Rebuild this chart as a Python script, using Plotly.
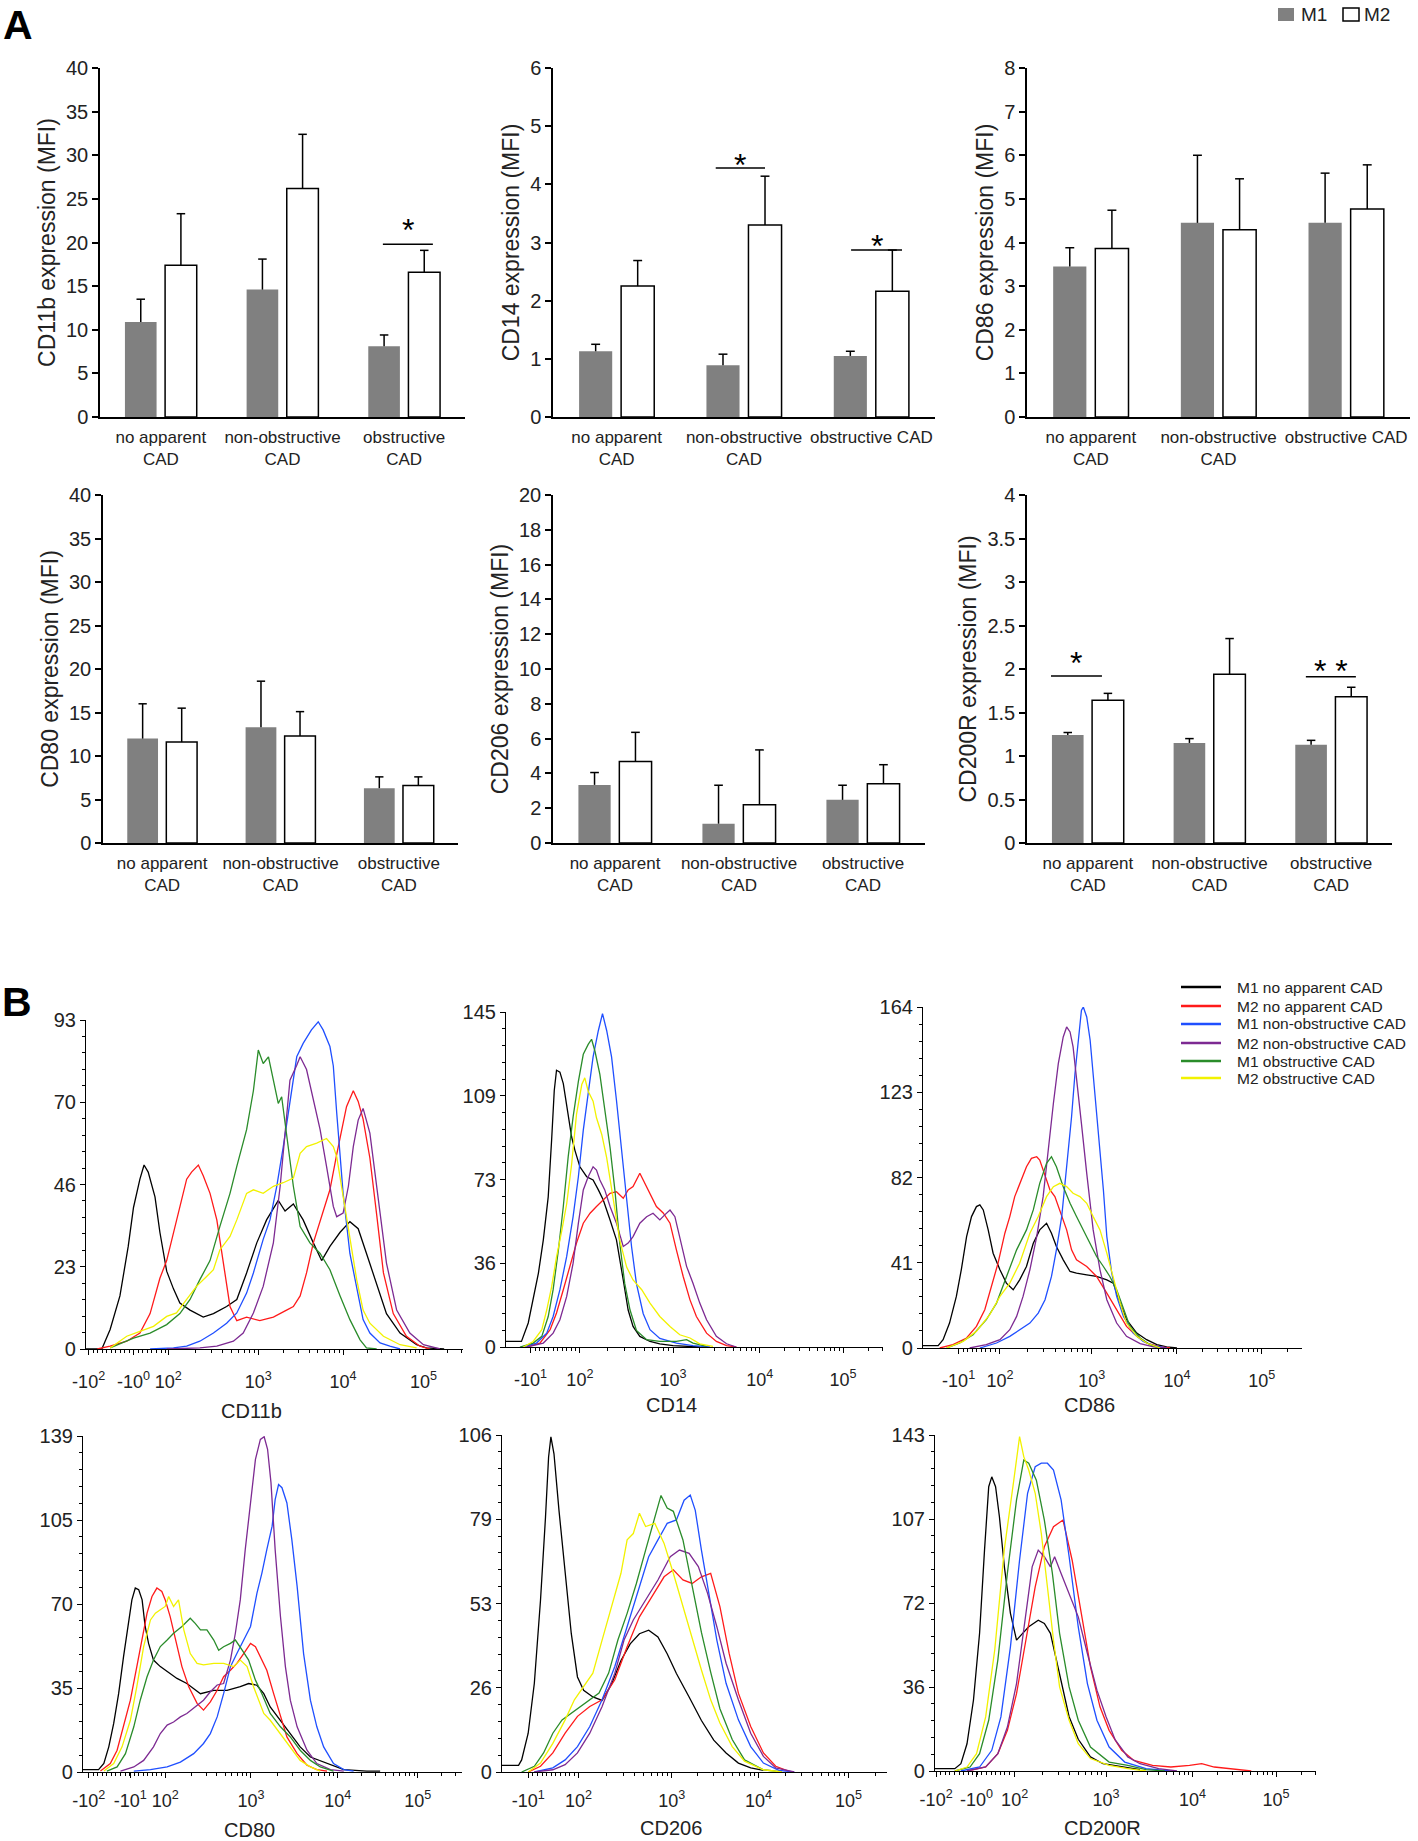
import math
import plotly.graph_objects as go

W, H = 1418, 1841
FONT = "Arial, 'Liberation Sans', sans-serif"
GRAY = "#808080"

#%% Panel A data: MFI mean and upper error bar, M1 / M2
groups = ["no apparent CAD", "non-obstructive CAD", "obstructive CAD"]

cd11b_m1 = [10.9, 14.6, 8.1]
cd11b_m1_err = [2.6, 3.5, 1.3]
cd11b_m2 = [17.4, 26.2, 16.6]
cd11b_m2_err = [5.9, 6.2, 2.5]

cd14_m1 = [1.13, 0.89, 1.05]
cd14_m1_err = [0.12, 0.19, 0.08]
cd14_m2 = [2.25, 3.30, 2.16]
cd14_m2_err = [0.44, 0.84, 0.71]

cd86_m1 = [3.45, 4.45, 4.45]
cd86_m1_err = [0.43, 1.55, 1.14]
cd86_m2 = [3.86, 4.29, 4.77]
cd86_m2_err = [0.88, 1.17, 1.01]

cd80_m1 = [12.0, 13.3, 6.3]
cd80_m1_err = [4.0, 5.3, 1.3]
cd80_m2 = [11.6, 12.3, 6.6]
cd80_m2_err = [3.9, 2.8, 1.0]

cd206_m1 = [3.34, 1.11, 2.48]
cd206_m1_err = [0.71, 2.21, 0.84]
cd206_m2 = [4.68, 2.2, 3.4]
cd206_m2_err = [1.68, 3.15, 1.1]

cd200r_m1 = [1.24, 1.15, 1.13]
cd200r_m1_err = [0.03, 0.05, 0.05]
cd200r_m2 = [1.64, 1.94, 1.68]
cd200r_m2_err = [0.08, 0.41, 0.11]

# significance marks: (panel, x from, x to, line level, star level, text)
sig_marks = [
    (1, 1.825, 2.236, 19.8, 22.3, "*"),
    (2, 0.778, 1.165, 4.28, 4.47, "*"),
    (2, 1.841, 2.241, 2.87, 3.07, "*"),
    (6, -0.303, 0.116, 1.92, 2.16, "*"),
    (6, 1.792, 2.203, 1.91, 2.07, "* *"),
]

#%% Panel B data: histogram counts vs display channel (0-1000)
series = ["M1 no apparent CAD", "M2 no apparent CAD", "M1 non-obstructive CAD",
          "M2 non-obstructive CAD", "M1 obstructive CAD", "M2 obstructive CAD"]
colors = ["#000000", "#ff1a1a", "#1f4fff", "#7d2a92", "#2a8c2a", "#f2f200"]

hist_cd11b = {
    "M1 no apparent CAD": (
        [0, 42, 64, 90, 112, 126, 143, 154, 165, 183, 196, 214, 232, 249, 276, 311, 338, 373, 400, 426,
         453, 479, 510, 528, 550, 576, 603, 625, 647, 674, 700, 722, 744, 771, 797, 833, 877, 903, 950],
        [0, 0, 5.5, 15, 29, 40, 48, 52, 50, 43, 33, 22, 17, 13, 11, 9, 10, 12, 14, 21.5,
         30, 36.5, 42, 39, 41, 36.5, 30, 25, 29, 33, 36, 34, 27, 18, 10, 4.5, 1.2, 0.3, 0]),
    "M2 no apparent CAD": (
        [30, 64, 108, 143, 170, 196, 214, 232, 249, 267, 280, 298, 311, 329, 347, 364, 382, 400, 426, 461,
         497, 532, 550, 568, 585, 603, 621, 647, 665, 691, 709, 722, 735, 753, 771, 789, 815, 850, 886, 912],
        [0, 0.8, 2.2, 4.5, 10, 20, 25, 33, 40, 48, 50, 52, 49, 44, 36.5, 24, 12, 8, 9, 8,
         9, 11, 12, 15, 21.5, 30, 36, 45, 55, 68.5, 73, 70, 65, 54, 38, 21.5, 10, 3.6, 0.8, 0]),
    "M1 non-obstructive CAD": (
        [170, 232, 267, 302, 338, 373, 400, 426, 444, 470, 488, 506, 523, 541, 559, 576, 598, 616, 629, 647,
         656, 665, 682, 700, 718, 735, 753, 780, 806, 833],
        [0, 0.3, 0.8, 2.2, 4.5, 7.3, 10.2, 15.8, 21.5, 31, 36.5, 46, 57, 70.4, 82.6, 86.4, 90.2, 92.5, 90.2, 85.5,
         80, 66.8, 44, 27, 16.8, 8.3, 4.5, 1.7, 0.8, 0]),
    "M2 non-obstructive CAD": (
        [214, 302, 347, 391, 417, 444, 470, 497, 515, 528, 541, 559, 568, 585, 603, 621, 638, 656, 665, 682,
         696, 709, 722, 735, 753, 771, 797, 824, 859, 895, 939],
        [0, 0.3, 0.8, 2.2, 4.5, 10.2, 17.7, 30, 46, 62, 76, 80.2, 82.6, 79, 70.4, 62, 51.6, 40.3, 37.4, 38.4,
         46, 57.2, 64.7, 68, 61, 46, 24.3, 11, 4.5, 1.2, 0]),
    "M1 obstructive CAD": (
        [64, 126, 170, 214, 249, 276, 302, 329, 355, 382, 400, 426, 444, 457, 470, 484, 497, 510, 519, 532,
         550, 568, 594, 621, 647, 674, 700, 727, 744, 771],
        [0.3, 3.1, 4.5, 6.9, 10, 14, 19.6, 25, 34.6, 44, 51.6, 62, 73, 84.5, 80.7, 82.6, 76, 69.4, 71.3, 61,
         46, 34.6, 30, 27, 22.4, 15, 8.3, 2.6, 0.3, 0]),
    "M2 obstructive CAD": (
        [64, 108, 143, 179, 214, 240, 267, 293, 320, 338, 355, 382, 400, 426, 444, 470, 497, 523, 550, 568,
         585, 612, 638, 656, 665, 682, 700, 718, 735, 753, 789, 833, 877],
        [0.3, 3.6, 5, 6.4, 9.2, 10.2, 14, 17.7, 20.5, 22.4, 28, 31.8, 36.5, 44, 45, 44, 46, 47, 48.3, 55.3,
         57.2, 58.2, 59.5, 57.2, 54.4, 43, 31.8, 19.6, 11, 7.3, 3.6, 1.2, 0.3]),
}

hist_cd14 = {
    "M1 no apparent CAD": (
        [0, 41, 59, 72, 86, 99, 112, 121, 128, 134, 143, 152, 161, 174, 183, 196, 214, 231, 245, 258,
         276, 293, 311, 324, 337, 355, 382, 408, 443, 479, 514],
        [2.4, 2.4, 10.4, 20.4, 32, 46.4, 65, 89.6, 111, 119.8, 119, 114, 104, 91, 85, 78, 73.7, 72.3, 68, 63.6,
         55, 46.4, 29, 16, 8.9, 4.6, 2.4, 1.4, 0.6, 0.3, 0]),
    "M2 no apparent CAD": (
        [55, 90, 117, 134, 152, 170, 187, 205, 223, 240, 258, 276, 293, 311, 324, 337, 355, 368, 386, 399,
         417, 435, 452, 470, 488, 505, 532, 558, 585, 611],
        [0, 1.7, 7.5, 14.7, 24.8, 34.9, 45, 53.6, 57.9, 60.8, 63.6, 66.5, 67.2, 64.4, 68, 69.4, 75.2, 70.9, 65, 60.8,
         58, 53.6, 42, 30.5, 20.4, 13.2, 6, 2.4, 0.6, 0]),
    "M1 non-obstructive CAD": (
        [46, 81, 108, 125, 143, 161, 178, 192, 205, 218, 231, 245, 256, 267, 280, 293, 307, 320, 333, 346,
         364, 382, 408, 452, 496, 541],
        [0, 1.7, 6, 13.2, 24.8, 39.2, 56.4, 73.7, 93.9, 111, 125.6, 137, 144.3, 137, 125.6, 106.8, 85.2, 62.2, 43.5, 27.4,
         14.4, 7.5, 3.7, 1.7, 0.6, 0]),
    "M2 non-obstructive CAD": (
        [55, 99, 125, 143, 161, 178, 192, 205, 218, 231, 240, 249, 262, 276, 293, 311, 324, 337, 355, 373,
         390, 408, 421, 435, 448, 461, 479, 496, 514, 532, 558, 585, 611],
        [0, 1.7, 6, 11.8, 21.9, 36.3, 53.6, 68, 73.7, 78, 76.6, 72.3, 68, 60.8, 53.6, 43.5, 45, 47.8, 53.6, 56.4,
         57.9, 55, 57.2, 59.3, 56.4, 47.8, 34.9, 27.6, 19, 11.8, 4.6, 1.4, 0]),
    "M1 obstructive CAD": (
        [37, 72, 95, 112, 125, 139, 152, 165, 178, 192, 205, 218, 227, 236, 249, 262, 276, 289, 302, 315,
         329, 346, 373, 408, 452, 479, 496, 532],
        [0, 1.7, 4.6, 13.2, 24.8, 42, 60.8, 82.4, 99.6, 115, 126.7, 131, 133.2, 128, 118, 102, 86.4, 67.7, 44.6, 27.4,
         16, 7.2, 3.2, 2.4, 2.4, 3.2, 1.7, 0.3]),
    "M2 obstructive CAD": (
        [46, 72, 95, 108, 121, 134, 148, 161, 174, 187, 201, 209, 218, 231, 240, 254, 267, 284, 302, 320,
         337, 360, 382, 408, 435, 461, 488, 514, 549],
        [0, 2.4, 7.5, 16, 26, 39, 50.4, 62, 79, 100.7, 113.6, 116.5, 110.7, 106.4, 99.2, 92, 82, 64.8, 46, 34.6,
         29, 24.8, 19, 13.2, 8.9, 5.3, 3.9, 1.4, 0.3]),
}

hist_cd86 = {
    "M1 no apparent CAD": (
        [0, 40, 53, 70, 88, 101, 115, 128, 141, 150, 159, 172, 185, 203, 220, 238, 255, 273, 291, 308,
         326, 339, 352, 370, 388, 405, 432, 458, 485, 502, 520, 537, 564, 590, 617, 643, 670],
        [1.1, 1.1, 4, 12, 24.8, 37.6, 53.6, 63.2, 68, 68.8, 66.4, 56.8, 45.6, 37.6, 31.2, 28, 32.8, 39.2, 50.4, 56.8,
         60, 55.2, 48.8, 42.4, 36.8, 36, 35.2, 34.4, 32.8, 31.2, 21.6, 13.6, 7.2, 4, 1.6, 0.5, 0]),
    "M2 no apparent CAD": (
        [44, 79, 115, 141, 163, 181, 198, 216, 229, 242, 255, 273, 286, 300, 308, 322, 335, 348, 361, 379,
         392, 405, 432, 458, 485, 511, 537, 564, 590, 626, 652],
        [0, 1.6, 4.8, 10.4, 18.4, 29.6, 40.8, 55.2, 63.2, 72.8, 79.2, 87.2, 91.2, 92, 90.4, 82.4, 76, 72.8, 66.4, 56.8,
         47.2, 42.4, 39.2, 34.4, 26.4, 18.4, 10.4, 5.6, 2.4, 0.5, 0]),
    "M1 non-obstructive CAD": (
        [150, 194, 229, 255, 282, 304, 322, 339, 352, 366, 379, 392, 401, 410, 418, 423, 432, 441, 449, 463,
         476, 485, 498, 511, 529, 555, 581, 608, 643],
        [0, 2.4, 5.6, 8.8, 12, 16.8, 23.2, 34.4, 47.2, 63.2, 85.6, 111.2, 132, 149.6, 162.4, 164, 159.2, 148, 132, 104.8,
         76, 53.6, 36, 24.8, 15.2, 7.2, 3.2, 1.1, 0]),
    "M2 non-obstructive CAD": (
        [123, 167, 203, 229, 247, 264, 282, 300, 317, 330, 344, 357, 370, 379, 388, 396, 405, 418, 432, 449,
         467, 485, 511, 537, 573, 608, 643],
        [0, 1.6, 4, 8.8, 15.2, 24.8, 37.6, 53.6, 72.8, 95.2, 117.6, 136.8, 149.6, 154.4, 152, 144.8, 130.4, 108, 84, 56.8,
         37.6, 23.2, 12, 5.6, 2.1, 0.5, 0]),
    "M1 obstructive CAD": (
        [62, 97, 132, 167, 194, 220, 247, 273, 291, 308, 326, 339, 352, 370, 388, 405, 423, 441, 458, 476,
         493, 511, 529, 546, 573, 599, 626],
        [0, 2.4, 6.4, 13.6, 21.6, 34.4, 47.2, 56.8, 66.4, 79.2, 88.8, 92, 87.2, 77.6, 69.6, 63.2, 56.8, 50.4, 44, 39.2,
         34.4, 28, 18.4, 10.4, 4.8, 1.6, 0]),
    "M2 obstructive CAD": (
        [62, 106, 141, 176, 203, 229, 255, 282, 304, 326, 344, 361, 379, 396, 414, 432, 449, 467, 485, 502,
         520, 537, 564, 590, 626],
        [0, 3.2, 8, 16, 24.8, 31.2, 40.8, 55.2, 63.2, 72.8, 77.6, 79.2, 77.6, 74.4, 72.8, 69.6, 63.2, 56.8, 45.6, 34.4,
         21.6, 12, 5.6, 2.4, 0]),
}

hist_cd80 = {
    "M1 no apparent CAD": (
        [0, 41, 55, 68, 81, 94, 107, 120, 129, 138, 147, 156, 164, 173, 186, 204, 222, 248, 274, 310,
         345, 380, 415, 437, 459, 477, 494, 521, 547, 573, 600, 635, 661, 688, 749, 784],
        [1, 1, 3.5, 10.4, 20.1, 32.4, 47.7, 62.9, 71.2, 76.1, 75.4, 71.2, 60.2, 53.2, 46.3, 43.6, 41.5, 38.7, 36.6, 32.4,
         33.8, 33.8, 35.3, 36.6, 35.9, 32.4, 26.9, 21.4, 15.9, 10.4, 6.2, 4.1, 2.8, 1, 0.4, 0.4]),
    "M2 no apparent CAD": (
        [46, 72, 90, 107, 125, 142, 156, 169, 182, 195, 208, 217, 230, 244, 261, 279, 301, 318, 336, 354,
         371, 389, 406, 424, 442, 455, 468, 485, 503, 521, 538, 565, 591, 617, 644],
        [0.4, 3.5, 9, 18.7, 29.7, 43.6, 54.6, 65.7, 72.6, 76.1, 74.7, 71.2, 64.3, 54.6, 43.6, 35.3, 28.4, 25.6, 29, 33.8,
         39.4, 42.1, 44.9, 49, 53.2, 51.8, 47.7, 42.1, 32.4, 22.8, 14.5, 7.6, 2.8, 1, 0.4]),
    "M1 non-obstructive CAD": (
        [134, 178, 222, 257, 292, 318, 336, 354, 371, 389, 406, 424, 442, 459, 472, 485, 499, 507, 516, 525,
         538, 551, 565, 582, 600, 617, 635, 661, 688, 714],
        [0.4, 1, 2.1, 4.1, 7.6, 11.8, 15.9, 22.8, 32.4, 43.6, 49, 54.6, 60.2, 74, 82.3, 92, 101.7, 112.7, 118.9, 117.6,
         111.3, 96.1, 76.8, 49, 29.7, 18.7, 10.4, 3.5, 1, 0.4]),
    "M2 non-obstructive CAD": (
        [99, 134, 160, 186, 204, 222, 239, 257, 274, 296, 318, 336, 354, 371, 389, 402, 415, 428, 442, 455,
         468, 478, 487, 496, 507, 521, 534, 547, 565, 591, 617, 653, 688],
        [0.4, 2.1, 4.8, 10.4, 15.9, 19.4, 20.7, 22.8, 24.2, 27, 29.7, 33.2, 36, 36.6, 46.3, 57.4, 71.2, 91.9, 112.7, 129.3,
         137.6, 138.7, 133.5, 119.7, 92, 64.3, 43.6, 29.7, 18.7, 9, 3.5, 1, 0.4]),
    "M1 obstructive CAD": (
        [63, 90, 112, 134, 151, 169, 186, 204, 222, 239, 261, 283, 296, 310, 327, 345, 358, 371, 389, 402,
         420, 437, 455, 472, 494, 521, 547, 573, 600, 626, 661],
        [0.4, 2.1, 7.6, 18.7, 29.7, 39.4, 46.3, 51.9, 54.6, 57.4, 60.2, 63.6, 61.5, 58.8, 58.8, 54.6, 50.4, 51.8, 53.2, 54.6,
         50.4, 46.3, 38, 32.4, 24.2, 18.7, 14.5, 9, 4.8, 2.1, 0.4]),
    "M2 obstructive CAD": (
        [55, 81, 103, 125, 142, 160, 178, 191, 204, 217, 226, 239, 252, 266, 283, 301, 318, 345, 371, 398,
         415, 433, 450, 477, 494, 521, 547, 573, 600, 626],
        [0.4, 3.5, 10.4, 21.4, 35.3, 51.9, 62.9, 65.7, 67.1, 68.5, 72.6, 68.5, 71.2, 58.8, 49, 44.9, 44.3, 44.9, 44.9, 43.6,
         46.3, 43.6, 35.3, 24.2, 21.4, 15.9, 10.4, 4.8, 2.1, 0.4]),
}

hist_cd206 = {
    "M1 no apparent CAD": (
        [0, 43, 51, 68, 84, 100, 113, 121, 127, 135, 148, 164, 180, 196, 212, 236, 260, 285, 309, 333,
         357, 381, 405, 429, 453, 486, 518, 550, 582, 614, 646, 679],
        [2.1, 2.1, 3.8, 12.2, 27.9, 54, 80.2, 99.1, 105.4, 100.1, 82.3, 62.4, 43.5, 29.9, 25.7, 23.6, 22.5, 27.8, 35.1, 40.3,
         43.5, 44.6, 42.5, 37.2, 31, 23.6, 16.2, 10, 6, 2.8, 1.3, 0.5]),
    "M2 no apparent CAD": (
        [68, 100, 132, 164, 196, 228, 260, 293, 325, 357, 389, 421, 445, 470, 494, 518, 542, 566, 590, 614,
         646, 679, 711, 751],
        [0, 1.8, 6, 12.2, 17.5, 20.6, 22.7, 29, 39.4, 48.8, 55.1, 61.4, 63.6, 60.4, 59.3, 61.4, 62.5, 52, 37.3, 24.8,
         14.3, 6, 1.8, 0]),
    "M1 non-obstructive CAD": (
        [84, 132, 164, 196, 228, 260, 293, 325, 357, 381, 405, 429, 453, 473, 489, 502, 518, 534, 558, 582,
         614, 646, 679, 719, 759],
        [0, 1.3, 3.8, 8, 14.3, 22.7, 33.2, 45.7, 58.3, 67.7, 73, 78.2, 79.3, 85.5, 87.1, 82.3, 69.8, 58.3, 41.5, 27.9,
         16.4, 8, 2.8, 0.5, 0]),
    "M2 non-obstructive CAD": (
        [84, 132, 164, 196, 228, 260, 293, 317, 341, 373, 405, 437, 461, 486, 510, 534, 558, 582, 614, 646,
         679, 711, 759],
        [0, 0.7, 2.3, 6, 12.2, 20.6, 31.1, 41.5, 47.8, 54.1, 60.4, 67.7, 69.8, 68.8, 64.6, 56.2, 45.7, 34.2, 22.7, 12.2,
         4.9, 1.3, 0]),
    "M1 obstructive CAD": (
        [51, 84, 108, 132, 156, 180, 204, 228, 252, 277, 301, 325, 349, 373, 397, 413, 429, 445, 470, 494,
         518, 542, 566, 598, 630, 679, 727],
        [0, 1.8, 6, 12.2, 16.4, 18.5, 20.6, 22.7, 24.8, 31.1, 41.5, 49.9, 59.3, 69.8, 80.3, 87, 83, 82, 73, 58.6,
         43.9, 31.4, 19.9, 10.2, 3.8, 0.7, 0]),
    "M2 obstructive CAD": (
        [68, 100, 132, 164, 188, 212, 236, 260, 285, 309, 325, 341, 357, 373, 397, 421, 445, 470, 494, 518,
         542, 566, 598, 630, 679, 727],
        [0, 2.8, 9, 16.4, 22.7, 26.9, 31.1, 41.5, 52, 62.5, 73, 75, 81.4, 77.2, 78.2, 71.9, 62.5, 52, 41.5, 32.1,
         22.7, 15.4, 8, 3.4, 0.7, 0]),
}

hist_cd200r = {
    "M1 no apparent CAD": (
        [0, 52, 68, 84, 101, 117, 130, 141, 149, 159, 169, 182, 198, 214, 230, 246, 271, 287, 303, 319,
         336, 352, 376, 408, 441, 490, 538],
        [1, 1, 3.1, 11.6, 30.2, 58.6, 94.1, 121, 125.2, 121, 108.3, 87, 67.1, 55.7, 58.6, 61.4, 64.2, 62.8, 58.6, 47.3,
         34.5, 23.1, 13.5, 6, 3.1, 1.7, 0.6]),
    "M2 no apparent CAD": (
        [84, 133, 165, 190, 214, 238, 263, 287, 311, 336, 360, 384, 408, 433, 457, 490, 522, 571, 619, 668,
         700, 733, 781, 830],
        [0, 1.7, 7.4, 17.3, 32.9, 55.7, 78.4, 95.5, 104, 106.8, 89.7, 67.1, 44.4, 27.3, 17.3, 8.8, 4.5, 2.4, 1.7, 2.4,
         3.1, 1.7, 1, 0]),
    "M1 non-obstructive CAD": (
        [68, 117, 149, 173, 198, 222, 243, 263, 279, 295, 311, 331, 352, 376, 400, 425, 457, 498, 554, 619],
        [0, 1.7, 8.8, 23, 52.8, 89.8, 118.2, 129.5, 131, 131, 128.1, 115.4, 91.3, 61.3, 37.2, 21.6, 10.2, 3.8, 1, 0]),
    "M2 non-obstructive CAD": (
        [84, 133, 165, 190, 214, 238, 255, 271, 287, 303, 314, 331, 352, 376, 400, 425, 449, 473, 506, 538,
         587, 635],
        [0, 1.7, 7.4, 18.7, 37.2, 65.6, 86.9, 94, 91.2, 86.9, 91.2, 84.1, 75.6, 65.6, 50, 34.4, 23.1, 13.2, 6, 3.1,
         1, 0]),
    "M1 obstructive CAD": (
        [52, 92, 117, 141, 165, 190, 214, 233, 246, 266, 287, 308, 327, 352, 376, 408, 457, 506, 554, 603],
        [0, 1.7, 7.4, 21.6, 47.3, 84.2, 115.4, 132.3, 131, 123.8, 106.8, 84.2, 58.6, 35.8, 21.6, 10.2, 3.8, 2.4, 0.6, 0]),
    "M2 obstructive CAD": (
        [52, 84, 109, 133, 157, 182, 206, 222, 233, 246, 263, 279, 295, 311, 327, 352, 376, 408, 457, 506, 554],
        [0, 1.7, 7.4, 23, 51.8, 94.4, 122.8, 142.3, 133.8, 128.1, 118.2, 101.1, 78.4, 55.7, 35.8, 21.6, 11.6, 5.3, 2.4, 1, 0]),
}

#%% axis setups
two_line = ["no apparent<br>CAD", "non-obstructive<br>CAD", "obstructive<br>CAD"]
one_last = ["no apparent<br>CAD", "non-obstructive<br>CAD", "obstructive CAD"]

# (y title, M1, M1 err, M2, M2 err, y max, y step, labels, x px, y px)
bar_panels = [
    ("CD11b expression (MFI)", cd11b_m1, cd11b_m1_err, cd11b_m2, cd11b_m2_err, 40, 5, two_line, (100, 465), (68, 417)),
    ("CD14 expression (MFI)", cd14_m1, cd14_m1_err, cd14_m2, cd14_m2_err, 6, 1, one_last, (553, 935), (68, 417)),
    ("CD86 expression (MFI)", cd86_m1, cd86_m1_err, cd86_m2, cd86_m2_err, 8, 1, one_last, (1027, 1410), (68, 417)),
    ("CD80 expression (MFI)", cd80_m1, cd80_m1_err, cd80_m2, cd80_m2_err, 40, 5, two_line, (103, 458), (495, 843)),
    ("CD206 expression (MFI)", cd206_m1, cd206_m1_err, cd206_m2, cd206_m2_err, 20, 2, two_line, (553, 925), (495, 843)),
    ("CD200R expression (MFI)", cd200r_m1, cd200r_m1_err, cd200r_m2, cd200r_m2_err, 4, 0.5, two_line, (1027, 1392), (495, 843)),
]

neg2, neg1, neg0 = "-10<sup>2</sup>", "-10<sup>1</sup>", "-10<sup>0</sup>"
pos = ["10<sup>2</sup>", "10<sup>3</sup>", "10<sup>4</sup>", "10<sup>5</sup>"]

# (label, data, y max, y labels, x tick channels, x tick text, x px, y px, label gap, title gap)
hist_panels = [
    ("CD11b", hist_cd11b, 93, ["0", "23", "46", "70", "93"], [7, 126, 218, 457, 682, 895],
     [neg2, neg0] + pos, (86, 463), (1020, 1349), 11, 62),
    ("CD14", hist_cd14, 145, ["0", "36", "73", "109", "145"], [65, 196, 443, 673, 894],
     [neg1] + pos, (506, 883), (1012, 1347), 11, 58),
    ("CD86", hist_cd86, 164, ["0", "41", "82", "123", "164"], [94, 203, 445, 670, 894],
     [neg1] + pos, (923, 1302), (1007, 1348), 11, 57),
    ("CD80", hist_cd80, 139, ["0", "35", "70", "105", "139"], [15, 125, 217, 443, 672, 883],
     [neg2, neg1] + pos, (83, 462), (1436, 1772), 7, 58),
    ("CD206", hist_cd206, 106, ["0", "26", "53", "79", "106"], [68, 199, 441, 666, 900],
     [neg1] + pos, (502, 887), (1435, 1772), 7, 56),
    ("CD200R", hist_cd200r, 143, ["0", "36", "72", "107", "143"], [3, 109, 209, 449, 676, 895],
     [neg2, neg0] + pos, (935, 1316), (1435, 1771), 7, 57),
]


def dom_x(px):
    return [px[0] / W, px[1] / W]


def dom_y(py):
    return [1 - py[1] / H, 1 - py[0] / H]


def ax_names(n):
    return ("x", "y") if n == 1 else (f"x{n}", f"y{n}")


def minor_ticks(tv):
    dec = tv[-4:]
    out = []
    c = tv[0] + 12
    while c < dec[0] - 6:
        out.append(c)
        c += 12
    for a, b in zip(dec[:-1], dec[1:]):
        out += [a + math.log10(k) * (b - a) for k in range(2, 10)]
    step = dec[-1] - dec[-2]
    out += [dec[-1] + math.log10(k) * step for k in range(2, 10) if dec[-1] + math.log10(k) * step < 1000]
    return out


fig = go.Figure()
layout = {}
shapes = []
annotations = []

#%% Panel A
for k, (ytitle, m1, e1, m2, e2, ymax, step, labels, xpx, ypx) in enumerate(bar_panels):
    n = k + 1
    xs, ys = ax_names(n)
    p1 = [i - 0.165 for i in range(len(groups))]
    p2 = [i + 0.165 for i in range(len(groups))]
    fig.add_trace(go.Bar(x=p1, y=m1, width=0.26, name="M1", marker=dict(color=GRAY, line=dict(width=0)),
                         xaxis=xs, yaxis=ys, showlegend=False))
    fig.add_trace(go.Bar(x=p2, y=m2, width=0.26, name="M2",
                         marker=dict(color="white", line=dict(color="black", width=1.5)),
                         xaxis=xs, yaxis=ys, showlegend=False))
    ex, ey = [], []
    for p, m, e in zip(p1 + p2, m1 + m2, e1 + e2):
        ex += [p, p, None, p - 0.035, p + 0.035, None]
        ey += [m, m + e, None, m + e, m + e, None]
    fig.add_trace(go.Scatter(x=ex, y=ey, mode="lines", line=dict(color="black", width=1.5),
                             xaxis=xs, yaxis=ys, showlegend=False, hoverinfo="skip"))
    xk = "xaxis" if n == 1 else f"xaxis{n}"
    yk = "yaxis" if n == 1 else f"yaxis{n}"
    layout[xk] = dict(domain=dom_x(xpx), anchor=ys, range=[-0.5, 2.5], tickmode="array",
                      tickvals=[0, 1, 2], ticktext=labels, ticks="", showline=True, linecolor="black",
                      linewidth=1.5, showgrid=False, zeroline=False, fixedrange=True,
                      ticklabelstandoff=4, tickfont=dict(size=17, color="#222"))
    layout[yk] = dict(domain=dom_y(ypx), anchor=xs, range=[0, ymax], dtick=step, ticks="outside",
                      ticklen=6, tickwidth=1.5, tickcolor="black", showline=True, linecolor="black",
                      linewidth=1.5, showgrid=False, zeroline=False, tickfont=dict(size=20, color="#222"),
                      title=dict(text=ytitle, font=dict(size=23, color="#222"), standoff=4))

for n, x0, x1, yl, yt, txt in sig_marks:
    xs, ys = ax_names(n)
    shapes.append(dict(type="line", xref=xs, yref=ys, x0=x0, x1=x1, y0=yl, y1=yl,
                       line=dict(color="black", width=1.5)))
    annotations.append(dict(xref=xs, yref=ys, x=(x0 + x1) / 2, y=yt, text=txt, showarrow=False,
                            yanchor="middle", yshift=-8, font=dict(size=32, color="black")))

#%% Panel B
for k, (label, data, top, ylabels, tv, tt, xpx, ypx, lgap, tgap) in enumerate(hist_panels):
    n = k + 7
    xs, ys = ax_names(n)
    for s, c in zip(series, colors):
        hx, hy = data[s]
        fig.add_trace(go.Scatter(x=hx, y=hy, mode="lines", line=dict(color=c, width=1.3),
                                 name=s, xaxis=xs, yaxis=ys, showlegend=False))
    layout[f"xaxis{n}"] = dict(domain=dom_x(xpx), anchor=ys, range=[0, 1000], tickmode="array",
                               tickvals=tv, ticktext=tt, ticks="outside", ticklen=5, tickwidth=1,
                               tickcolor="black", showline=True, linecolor="black", linewidth=1.2,
                               showgrid=False, zeroline=False, ticklabelstandoff=lgap,
                               tickfont=dict(size=18, color="#222"),
                               minor=dict(tickmode="array", tickvals=minor_ticks(tv), ticks="outside",
                                          ticklen=2.5, tickcolor="black", showgrid=False))
    layout[f"yaxis{n}"] = dict(domain=dom_y(ypx), anchor=xs, range=[0, top], tickmode="array",
                               tickvals=[top * i / 4 for i in range(5)], ticktext=ylabels,
                               ticks="outside", ticklen=5, tickwidth=1, tickcolor="black",
                               showline=True, linecolor="black", linewidth=1.2, showgrid=False,
                               zeroline=False, tickfont=dict(size=20, color="#222"),
                               minor=dict(tickmode="linear", tick0=0, dtick=top / 20, ticks="outside",
                                          ticklen=2.5, tickcolor="black", showgrid=False))
    annotations.append(dict(xref=f"{xs} domain", yref=f"{ys} domain", x=0.44, y=0, yshift=-tgap,
                            text=label, showarrow=False, yanchor="middle",
                            font=dict(size=20, color="#222")))

#%% legends and panel letters
shapes.append(dict(type="rect", xref="paper", yref="paper", x0=1278 / W, x1=1294 / W,
                   y0=1 - 21 / H, y1=1 - 8 / H, fillcolor=GRAY, line=dict(width=0)))
shapes.append(dict(type="rect", xref="paper", yref="paper", x0=1343 / W, x1=1359 / W,
                   y0=1 - 21 / H, y1=1 - 8 / H, fillcolor="white", line=dict(color="black", width=1.5)))
annotations.append(dict(xref="paper", yref="paper", x=1299 / W, y=1 - 14.5 / H, text="M1",
                        xanchor="left", yanchor="middle", showarrow=False, font=dict(size=19, color="#222")))
annotations.append(dict(xref="paper", yref="paper", x=1362 / W, y=1 - 14.5 / H, text="M2",
                        xanchor="left", yanchor="middle", showarrow=False, font=dict(size=19, color="#222")))

row_y = [987, 1006, 1024, 1043, 1061, 1078]
for s, c, ry in zip(series, colors, row_y):
    shapes.append(dict(type="line", xref="paper", yref="paper", x0=1181 / W, x1=1221 / W,
                       y0=1 - ry / H, y1=1 - ry / H, line=dict(color=c, width=2.5)))
    annotations.append(dict(xref="paper", yref="paper", x=1235 / W, y=1 - ry / H, text=s,
                            xanchor="left", yanchor="middle", showarrow=False,
                            font=dict(size=15.5, color="#222")))

annotations.append(dict(xref="paper", yref="paper", x=1 / W, y=1, text="<b>A</b>",
                        xanchor="left", yanchor="top", showarrow=False, font=dict(size=41, color="black")))
annotations.append(dict(xref="paper", yref="paper", x=0, y=1 - 977 / H, text="<b>B</b>",
                        xanchor="left", yanchor="top", showarrow=False, font=dict(size=41, color="black")))

fig.update_layout(**layout)
fig.update_layout(width=W, height=H, margin=dict(l=0, r=0, t=0, b=0, autoexpand=False), barmode="overlay",
                  plot_bgcolor="white", paper_bgcolor="white", font=dict(family=FONT, color="#222"),
                  shapes=shapes, annotations=annotations, showlegend=False)

fig.write_html("out.html", config={"displayModeBar": False},
               post_script="document.body.style.margin='0px';")
